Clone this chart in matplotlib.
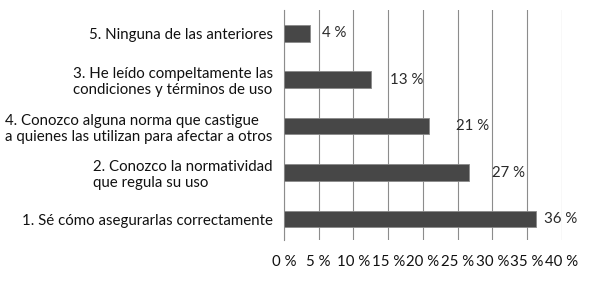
import matplotlib.pyplot as plt
import numpy as np

plt.rcParams['font.family'] = ['Lato', 'DejaVu Sans']

# categories from bottom to top
labels = [
    "1. Sé cómo asegurarlas correctamente",
    "2. Conozco la normatividad\nque regula su uso",
    "4. Conozco alguna norma que castigue\na quienes las utilizan para afectar a otros",
    "3. He leído compeltamente las\ncondiciones y términos de uso",
    "5. Ninguna de las anteriores",
]
values = [36.3, 26.6, 20.9, 12.6, 3.8]
value_text = ["36 %", "27 %", "21 %", "13 %", "4 %"]
ticks = [0, 5, 10, 15, 20, 25, 30, 35, 40]

fig = plt.figure(figsize=(5.89, 2.83), dpi=100)
ax = fig.add_axes([0.482, 0.152, 0.472, 0.813])

y = np.arange(len(labels))
ax.barh(y, values, height=0.36, color='#474747', edgecolor='#8a8a8a',
        linewidth=0.6, zorder=3)

# label offsets beyond bar end (as in the original layout)
offsets = [1.1, 3.3, 3.8, 2.7, 1.7]
for yi, v, t, off in zip(y, values, value_text, offsets):
    ax.text(v + off, yi, t, va='center', ha='left', fontsize=10.8,
            color='#2a2a2a', zorder=4)

ax.set_xlim(0, 40)
ax.set_ylim(-0.45, 4.5)
ax.set_xticks(ticks)
ax.set_xticklabels([f"{t} %" for t in ticks], fontsize=10.8, color='#111111')
ax.set_yticks(y)
ax.set_yticklabels(labels, fontsize=10.8, color='#111111', multialignment='left')
ax.tick_params(axis='y', length=0, pad=8)
ax.tick_params(axis='x', length=0, pad=11)

ax.grid(axis='x', color='#8c8c8c', linewidth=0.8, zorder=0)
for s in ['top', 'right', 'bottom']:
    ax.spines[s].set_visible(False)
ax.spines['left'].set_color('#8c8c8c')
ax.spines['left'].set_linewidth(0.8)

fig.savefig('out.png', dpi=100)
